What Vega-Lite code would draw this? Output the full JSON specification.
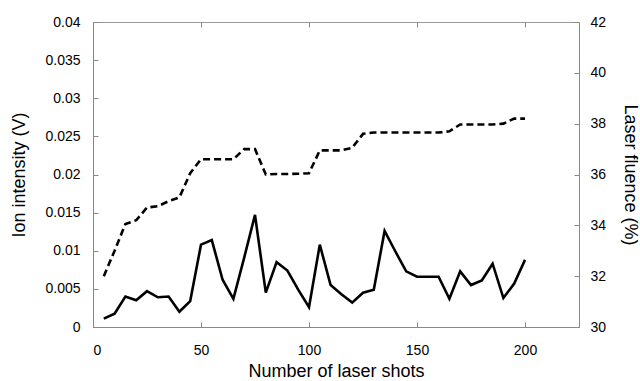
{
  "$schema": "https://vega.github.io/schema/vega-lite/v6.json",
  "width": 486,
  "height": 305,
  "autosize": "none",
  "padding": {"left": 93, "top": 22, "right": 61, "bottom": 54},
  "background": "white",
  "config": {
    "view": {"stroke": "#999", "strokeWidth": 1},
    "font": "Liberation Sans",
    "axis": {
      "grid": false,
      "labelFont": "Liberation Sans",
      "titleFont": "Liberation Sans",
      "labelFontSize": 14,
      "titleFontSize": 18,
      "titleFontWeight": "normal",
      "labelColor": "#000",
      "titleColor": "#000",
      "domainColor": "#888",
      "tickColor": "#888",
      "tickSize": -5
    }
  },
  "data": {
    "values": [
      {"shots": 5, "ion": 0.0011, "fluence": 32.0},
      {"shots": 10, "ion": 0.00175, "fluence": 33.0},
      {"shots": 15, "ion": 0.0040, "fluence": 34.05},
      {"shots": 20, "ion": 0.0035, "fluence": 34.2},
      {"shots": 25, "ion": 0.0047, "fluence": 34.7},
      {"shots": 30, "ion": 0.0039, "fluence": 34.75},
      {"shots": 35, "ion": 0.0040, "fluence": 34.95},
      {"shots": 40, "ion": 0.0020, "fluence": 35.1},
      {"shots": 45, "ion": 0.0034, "fluence": 36.05},
      {"shots": 50, "ion": 0.0108, "fluence": 36.6},
      {"shots": 55, "ion": 0.0114, "fluence": 36.6},
      {"shots": 60, "ion": 0.0062, "fluence": 36.6},
      {"shots": 65, "ion": 0.0037, "fluence": 36.6},
      {"shots": 70, "ion": 0.0091, "fluence": 37.0},
      {"shots": 75, "ion": 0.0147, "fluence": 37.0},
      {"shots": 80, "ion": 0.0045, "fluence": 36.0},
      {"shots": 85, "ion": 0.0085, "fluence": 36.02},
      {"shots": 90, "ion": 0.0074, "fluence": 36.02},
      {"shots": 95, "ion": 0.0049, "fluence": 36.03},
      {"shots": 100, "ion": 0.0026, "fluence": 36.05},
      {"shots": 105, "ion": 0.0108, "fluence": 36.95},
      {"shots": 110, "ion": 0.0055, "fluence": 36.95},
      {"shots": 115, "ion": 0.0043, "fluence": 36.95},
      {"shots": 120, "ion": 0.0032, "fluence": 37.05},
      {"shots": 125, "ion": 0.0045, "fluence": 37.6},
      {"shots": 130, "ion": 0.0049, "fluence": 37.65},
      {"shots": 135, "ion": 0.0126, "fluence": 37.65},
      {"shots": 140, "ion": 0.0099, "fluence": 37.65},
      {"shots": 145, "ion": 0.0073, "fluence": 37.65},
      {"shots": 150, "ion": 0.0066, "fluence": 37.65},
      {"shots": 155, "ion": 0.0066, "fluence": 37.65},
      {"shots": 160, "ion": 0.0066, "fluence": 37.65},
      {"shots": 165, "ion": 0.0037, "fluence": 37.7},
      {"shots": 170, "ion": 0.0073, "fluence": 37.97},
      {"shots": 175, "ion": 0.0055, "fluence": 37.97},
      {"shots": 180, "ion": 0.0061, "fluence": 37.97},
      {"shots": 185, "ion": 0.0083, "fluence": 37.97},
      {"shots": 190, "ion": 0.0038, "fluence": 38.0},
      {"shots": 195, "ion": 0.0057, "fluence": 38.2},
      {"shots": 200, "ion": 0.0088, "fluence": 38.2}
    ]
  },
  "layer": [
    {
      "mark": {"type": "line", "color": "black", "strokeWidth": 2.6},
      "encoding": {
        "x": {
          "field": "shots", "type": "quantitative",
          "scale": {"domain": [0, 225], "nice": false, "zero": false},
          "axis": {"values": [0, 50, 100, 150, 200], "title": "Number of laser shots", "labelPadding": 21, "titlePadding": 5}
        },
        "y": {
          "field": "ion", "type": "quantitative",
          "scale": {"domain": [0, 0.04], "nice": false},
          "axis": {"values": [0, 0.005, 0.01, 0.015, 0.02, 0.025, 0.03, 0.035, 0.04], "format": "~g", "title": "Ion intensity (V)", "labelPadding": 18, "titlePadding": 16}
        }
      }
    },
    {
      "mark": {"type": "line", "color": "black", "strokeWidth": 2.6, "strokeDash": [7, 4]},
      "encoding": {
        "x": {
          "field": "shots", "type": "quantitative",
          "axis": {"orient": "top", "values": [0, 50, 100, 150, 200], "labels": false, "title": null, "domain": false}
        },
        "y": {
          "field": "fluence", "type": "quantitative",
          "scale": {"domain": [30, 42], "nice": false, "zero": false},
          "axis": {"orient": "right", "values": [30, 32, 34, 36, 38, 40, 42], "title": "Laser fluence (%)", "labelPadding": 16, "titlePadding": 15}
        }
      }
    }
  ],
  "resolve": {"scale": {"y": "independent"}, "axis": {"x": "independent", "y": "independent"}}
}
